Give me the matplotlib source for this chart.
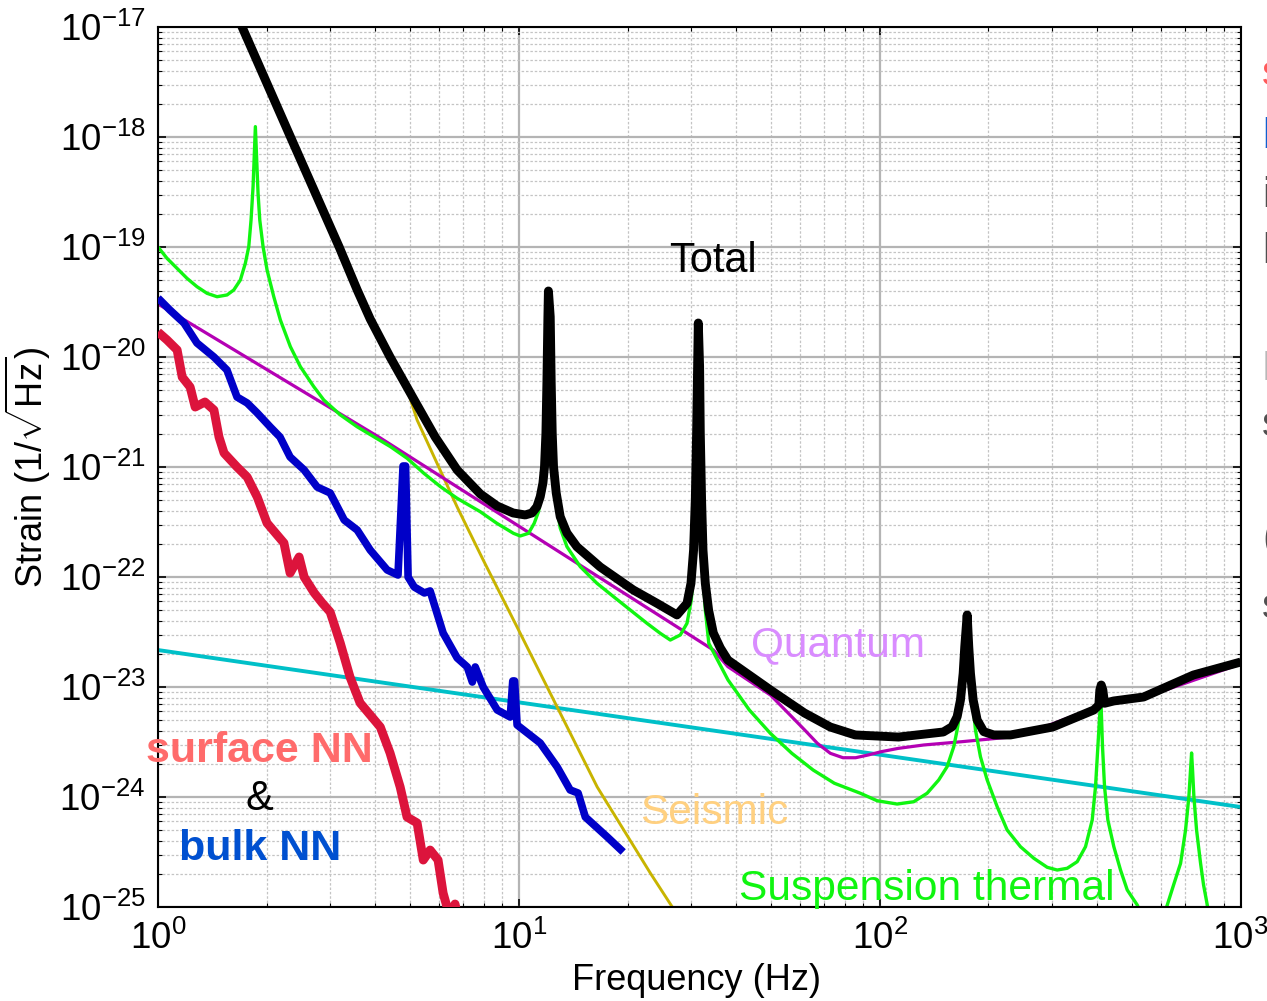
import numpy as np
import matplotlib
matplotlib.use("Agg")
import matplotlib.pyplot as plt
from matplotlib.ticker import LogLocator, NullFormatter, LogFormatterMathtext

plt.rcParams['font.family'] = ['Liberation Sans', 'DejaVu Sans']
plt.rcParams['mathtext.fontset'] = 'custom'
plt.rcParams['mathtext.rm'] = 'Liberation Sans'
plt.rcParams['mathtext.it'] = 'Liberation Sans:italic'
plt.rcParams['mathtext.bf'] = 'Liberation Sans:bold'
plt.rcParams['mathtext.sf'] = 'Liberation Sans'

# ---------------- data (log10 of frequency [Hz], log10 of strain [1/sqrt(Hz)]) -------------
total_log10_freq = [0.202, 0.233, 0.366, 0.502, 0.552, 0.588, 0.643, 0.707, 0.768, 0.829, 0.893, 0.940,
                    0.984, 1.0175, 1.0361, 1.0499, 1.0591, 1.0666, 1.0710, 1.0749, 1.0776, 1.0804,
                    1.0818, 1.0868, 1.0895, 1.0923, 1.0959, 1.1034, 1.1145, 1.1331, 1.1608, 1.2254, 1.317,
                    1.3826, 1.4381, 1.4658, 1.4768, 1.4840, 1.4888, 1.4924, 1.4952, 1.4971, 1.5007, 1.5026,
                    1.5062, 1.5101, 1.5165, 1.5256, 1.5387, 1.5581, 1.579, 1.697, 1.791, 1.863, 1.932,
                    2.052, 2.176, 2.2004, 2.2143, 2.2235, 2.2310, 2.2354, 2.2421, 2.2465, 2.2512, 2.2587,
                    2.2698, 2.2881, 2.3158, 2.3621, 2.479, 2.5930, 2.6069, 2.6097, 2.6136, 2.6180, 2.6227,
                    2.648, 2.731, 2.869, 3.0]
total_log10_strain = [-16.755, -17.0, -17.991, -19.0, -19.391, -19.655, -20.0, -20.373, -20.727, -21.027,
                      -21.245, -21.355, -21.418, -21.436, -21.418, -21.361, -21.27, -21.145, -20.997,
                      -20.691, -20.236, -19.634, -19.40, -19.634, -20.236, -20.691, -20.997, -21.236, -21.452,
                      -21.6, -21.725, -21.909, -22.118, -22.239, -22.345, -22.239, -22.057, -21.755, -21.3,
                      -20.691, -20.088, -19.691, -20.088, -20.691, -21.3, -21.755, -22.057, -22.3, -22.509,
                      -22.645, -22.755, -23.027, -23.236, -23.364, -23.436, -23.455, -23.409, -23.361, -23.27,
                      -23.118, -22.875, -22.634, -22.345, -22.634, -22.875, -23.118, -23.3, -23.406, -23.436,
                      -23.436, -23.364, -23.209, -23.164, -23.027, -22.982, -23.027, -23.148, -23.127, -23.091,
                      -22.891, -22.773]

susp_log10_freq = [0.0, 0.025, 0.0527, 0.0804, 0.1081, 0.1358, 0.1636, 0.1913, 0.2099, 0.2282, 0.2420,
                   0.2515, 0.2578, 0.2634, 0.2670, 0.2698, 0.2736, 0.2772, 0.2820, 0.2911, 0.3022, 0.3208,
                   0.3391, 0.3668, 0.3945, 0.4317, 0.4594, 0.5054, 0.5517, 0.5980, 0.6440, 0.6903, 0.7366,
                   0.7827, 0.8290, 0.8927, 0.9390, 0.9850, 1.0036, 1.0266, 1.0424, 1.0543, 1.0646, 1.0729,
                   1.0785, 1.0812, 1.0840, 1.0895, 1.0978, 1.1145, 1.1331, 1.1700, 1.2162, 1.2623, 1.3086,
                   1.3549, 1.3917, 1.4195, 1.4472, 1.4658, 1.4777, 1.4860, 1.4929, 1.4971, 1.5012, 1.5082,
                   1.5165, 1.5262, 1.5794, 1.6385, 1.6967, 1.7563, 1.8154, 1.8741, 1.9462, 1.9925, 2.0480,
                   2.0940, 2.1311, 2.1633, 2.1866, 2.2049, 2.2143, 2.2235, 2.2318, 2.2374, 2.2429, 2.2484,
                   2.2540, 2.2595, 2.2651, 2.2789, 2.2975, 2.3252, 2.3529, 2.3898, 2.4267, 2.4638, 2.4915,
                   2.5193, 2.5470, 2.5700, 2.5886, 2.5977, 2.6041, 2.6097, 2.6130, 2.6171, 2.6227, 2.6319,
                   2.6485, 2.6670, 2.6856, 2.7134, 2.7364, 2.7558, 2.7779, 2.7965, 2.8140, 2.8334, 2.8472,
                   2.8564, 2.8611, 2.8639, 2.8666, 2.8703, 2.8777, 2.8888, 2.8971, 2.9074, 2.9221]
susp_log10_strain = [-19.0, -19.103, -19.194, -19.285, -19.361, -19.421, -19.452, -19.436, -19.391, -19.3,
                     -19.148, -18.997, -18.755, -18.452, -18.148, -17.906, -18.209, -18.512, -18.755, -18.997,
                     -19.209, -19.452, -19.664, -19.906, -20.088, -20.27, -20.391, -20.527, -20.634, -20.725,
                     -20.815, -20.921, -21.057, -21.179, -21.285, -21.406, -21.512, -21.603, -21.627, -21.603,
                     -21.512, -21.406, -21.209, -20.755, -20.027, -19.482, -20.027, -20.755, -21.209, -21.555,
                     -21.724, -21.906, -22.057, -22.179, -22.3, -22.421, -22.512, -22.573, -22.527, -22.421,
                     -22.209, -21.845, -21.118, -19.845, -21.118, -21.845, -22.3, -22.603, -22.936, -23.209,
                     -23.421, -23.603, -23.755, -23.875, -23.966, -24.034, -24.064, -24.043, -23.966, -23.845,
                     -23.724, -23.543, -23.391, -23.209, -22.936, -22.664, -22.482, -22.664, -22.936, -23.209,
                     -23.391, -23.634, -23.845, -24.088, -24.3, -24.452, -24.557, -24.639, -24.664, -24.648,
                     -24.588, -24.452, -24.209, -23.906, -23.543, -23.239, -23.145, -23.543, -23.906, -24.209,
                     -24.452, -24.664, -24.845, -24.982, -25.164, -25.255, -25.164, -24.982, -24.8, -24.603,
                     -24.3, -23.997, -23.755, -23.6, -23.755, -23.997, -24.3, -24.603, -24.8, -24.982, -25.209]

quantum_log10_freq = [0.0, 0.616, 1.539, 1.579, 1.697, 1.756, 1.792, 1.827, 1.863, 1.898, 1.933, 1.968,
                      2.004, 2.051, 2.122, 2.228, 2.362, 2.426, 2.612, 2.750, 3.0]
quantum_log10_strain = [-19.518, -20.736, -22.664, -22.815, -23.073, -23.27, -23.391, -23.512, -23.603,
                        -23.643, -23.643, -23.618, -23.588, -23.558, -23.527, -23.497, -23.455, -23.40,
                        -23.17, -23.075, -22.79]

coating_log10_freq = [0.0, 3.0]
coating_log10_strain = [-22.664, -24.091]

seismic_log10_freq = [0.685, 0.718, 0.829, 0.901, 0.995, 1.106, 1.217, 1.364, 1.425, 1.447]
seismic_log10_strain = [-20.236, -20.573, -21.364, -21.845, -22.455, -23.182, -23.909, -24.691, -25.0, -25.118]

surface_nn_log10_freq = [0.0, 0.025, 0.053, 0.067, 0.089, 0.103, 0.130, 0.155, 0.169, 0.183, 0.219, 0.247,
                         0.275, 0.302, 0.349, 0.366, 0.391, 0.405, 0.433, 0.455, 0.477, 0.505, 0.532, 0.560,
                         0.616, 0.643, 0.671, 0.690, 0.718, 0.735, 0.754, 0.776, 0.790, 0.807, 0.823, 0.843]
surface_nn_log10_strain = [-19.773, -19.845, -19.936, -20.182, -20.273, -20.455, -20.409, -20.482, -20.727,
                           -20.873, -21.0, -21.091, -21.273, -21.509, -21.691, -21.964, -21.818, -22.0,
                           -22.145, -22.236, -22.318, -22.6, -22.909, -23.145, -23.364, -23.6, -23.909,
                           -24.182, -24.236, -24.573, -24.482, -24.573, -24.873, -25.073, -24.973, -25.255]

bulk_nn_log10_freq = [0.0, 0.033, 0.072, 0.108, 0.155, 0.191, 0.219, 0.247, 0.275, 0.311, 0.338, 0.366,
                      0.405, 0.441, 0.477, 0.516, 0.552, 0.588, 0.635, 0.665, 0.679, 0.686, 0.693, 0.710,
                      0.738, 0.754, 0.790, 0.829, 0.857, 0.871, 0.879, 0.901, 0.940, 0.976, 0.983, 0.988,
                      0.995, 1.059, 1.106, 1.142, 1.164, 1.184, 1.245, 1.289]
bulk_nn_log10_strain = [-19.464, -19.573, -19.691, -19.873, -20.0, -20.118, -20.364, -20.418, -20.509,
                        -20.636, -20.727, -20.909, -21.027, -21.182, -21.236, -21.482, -21.573, -21.755,
                        -21.936, -21.982, -20.991, -20.991, -22.0, -22.091, -22.145, -22.127, -22.509,
                        -22.736, -22.818, -22.955, -22.818, -23.0, -23.209, -23.273, -22.945, -22.945,
                        -23.345, -23.509, -23.727, -23.936, -23.964, -24.182, -24.364, -24.5]


def pw(a):
    return np.power(10.0, np.asarray(a, dtype=float))


fig = plt.figure(figsize=(12.67, 10.01), dpi=100)
ax = fig.add_axes([158 / 1267, 94 / 1001, 1082.7 / 1267, 880 / 1001])
ax.set_xscale('log')
ax.set_yscale('log')

kw = dict(solid_joinstyle='round', solid_capstyle='butt')
ax.plot(pw(coating_log10_freq), pw(coating_log10_strain), color='#00c0c8', lw=2.8, zorder=2, **kw)
ax.plot(pw(seismic_log10_freq), pw(seismic_log10_strain), color='#c8b400', lw=2.1, zorder=2.1, **kw)
ax.plot(pw(quantum_log10_freq), pw(quantum_log10_strain), color='#b400b4', lw=2.3, zorder=2.2, **kw)
ax.plot(pw(susp_log10_freq), pw(susp_log10_strain), color='#10f510', lw=2.4, zorder=2.3, **kw)
ax.plot(pw(surface_nn_log10_freq), pw(surface_nn_log10_strain), color='#dc143c', lw=6.4, zorder=3, **kw)
ax.plot(pw(bulk_nn_log10_freq), pw(bulk_nn_log10_strain), color='#0000c8', lw=5.5, zorder=3.1, **kw)
ax.plot(pw(total_log10_freq), pw(total_log10_strain), color='black', lw=6.4, zorder=4, **kw)

ax.set_xlim(1, 1000)
ax.set_ylim(1e-25, 1e-17)

ax.xaxis.set_major_locator(LogLocator(base=10, numticks=20))
ax.yaxis.set_major_locator(LogLocator(base=10, numticks=20))
ax.xaxis.set_minor_locator(LogLocator(base=10, subs=np.arange(2, 10), numticks=100))
ax.yaxis.set_minor_locator(LogLocator(base=10, subs=np.arange(2, 10), numticks=100))
ax.xaxis.set_major_formatter(LogFormatterMathtext())
ax.yaxis.set_major_formatter(LogFormatterMathtext())
ax.xaxis.set_minor_formatter(NullFormatter())
ax.yaxis.set_minor_formatter(NullFormatter())

ax.set_axisbelow(True)
ax.grid(which='major', color='#b4b4b4', lw=1.6, ls='-')
ax.grid(which='minor', color='#c4c4c4', lw=0.9, ls=(0, (2.0, 1.5)))

ax.tick_params(which='both', direction='in', top=True, right=True, colors='black')
ax.tick_params(which='major', length=6, width=1.2, labelsize=26.5)
ax.tick_params(which='minor', length=3, width=0.8)
ax.tick_params(axis='x', which='major', pad=10)
ax.tick_params(axis='y', which='major', pad=9)
for s in ax.spines.values():
    s.set_linewidth(1.5)
    s.set_color('black')

ax.set_xlabel('Frequency (Hz)', fontsize=26)
ax.xaxis.set_label_coords(0.497, -0.064)
ax.set_ylabel(r'Strain $(1/\sqrt{\mathrm{Hz}})$', fontsize=26)
ax.yaxis.set_label_coords(-0.097, 0.5)

T = ax.transAxes
ax.text(0.5126, 0.7216, 'Total', transform=T, ha='center', va='baseline', fontsize=30, color='black', zorder=6)
ax.text(0.628, 0.2852, 'Quantum', transform=T, ha='center', va='baseline', fontsize=30.5, color='#d98cff', zorder=6)
ax.text(0.5135, 0.0943, 'Seismic', transform=T, ha='center', va='baseline', fontsize=30.5, color='#ffd080', zorder=6)
ax.text(0.7098, 0.008, 'Suspension thermal', transform=T, ha='center', va='baseline', fontsize=30.6,
        color='#10f510', zorder=6)
ax.text(0.0937, 0.1648, 'surface NN', transform=T, ha='center', va='baseline', fontsize=31,
        fontweight='bold', color='#ff6b6b', zorder=6)
ax.text(0.0933, 0.110, '&', transform=T, ha='center', va='baseline', fontsize=30, color='black', zorder=6)
ax.text(0.0942, 0.0534, 'bulk NN', transform=T, ha='center', va='baseline', fontsize=31,
        fontweight='bold', color='#0050d0', zorder=6)

# text of a neighbouring panel, cut off by the right edge of the image
side_texts = [('surface', '#ff5a5a', 85), ('bulk', '#1060d0', 148), ('in', '#505050', 207),
              ('low', '#505050', 263), ('Low', '#b8b8b8', 380), ('s', '#505050', 436),
              ('(', '#505050', 550), ('s', '#505050', 618)]
for word, col, ybase in side_texts:
    fig.text(1262 / 1267, 1 - ybase / 1001, word, ha='left', va='baseline', fontsize=30, color=col)

fig.savefig('out.png', dpi=100)
